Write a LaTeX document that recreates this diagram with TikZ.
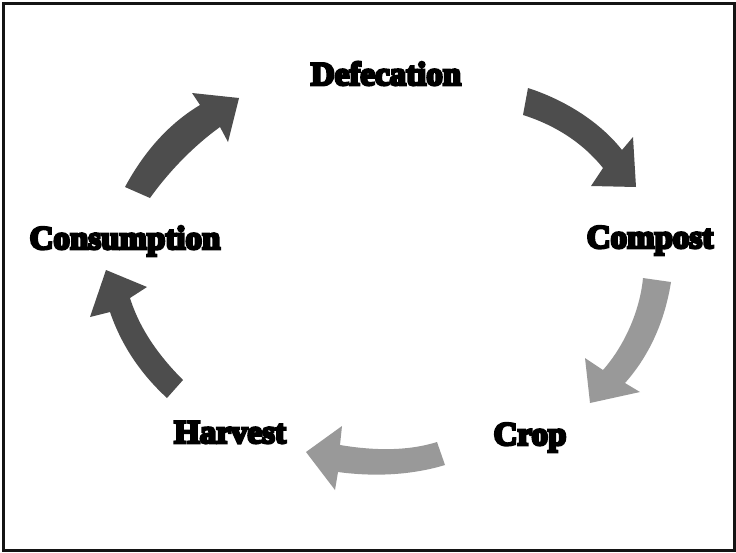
\documentclass[tikz,border=0pt]{standalone}
\usepackage{fontspec}
\newfontfamily\lblfont{Liberation Serif Bold}[FakeBold=8]
\definecolor{darkarrow}{RGB}{77,77,77}
\definecolor{lightarrow}{RGB}{153,153,153}
\definecolor{framecol}{RGB}{20,20,20}
\tikzset{
  lbl/.style={anchor=base,inner sep=0pt,font=\lblfont\fontsize{33}{40}\selectfont},
  darkblk/.style={fill=darkarrow,draw=none},
  lightblk/.style={fill=lightarrow,draw=none}
}
\begin{document}
\begin{tikzpicture}[x=1pt,y=-1pt]
\useasboundingbox (0,0) rectangle (736,552);
\draw[framecol,line width=3pt] (3.5,3.5) rectangle (734,550);
% labels
\node[lbl] (def)  at (386,85)  {Defecation};
\node[lbl] (comp) at (650,248) {Compost};
\node[lbl] (crop) at (530,445) {Crop};
\node[lbl] (harv) at (230,443) {Harvest};
\node[lbl] (cons) at (125,249) {Consumption};
% arrow 1: Defecation -> Compost
\fill[darkblk] (528,88) .. controls (565,100) and (600,122) .. (622,150)
  -- (633,137) -- (636,187) -- (591,186) -- (603,168)
  .. controls (583,143) and (555,125) .. (523,115) -- cycle;
% arrow 2: Compost -> Crop
\fill[lightblk] (671,282) .. controls (665,320) and (650,355) .. (625,383)
  -- (640,392) -- (590,403) -- (585,358) -- (603,370)
  .. controls (625,345) and (640,310) .. (643,278) -- cycle;
% arrow 3: Crop -> Harvest
\fill[lightblk] (437,442) .. controls (405,452) and (370,450) .. (340,445)
  -- (342,426) -- (306,452) -- (335,490) -- (338,472)
  .. controls (375,477) and (412,475) .. (445,465) -- cycle;
% arrow 4: Harvest -> Consumption
\fill[darkblk] (183,380) .. controls (160,357) and (140,330) .. (130,298)
  -- (147,287) -- (106,270) -- (90,317) -- (110,312)
  .. controls (122,347) and (142,375) .. (167,398) -- cycle;
% arrow 5: Consumption -> Defecation
\fill[darkblk] (125,187) .. controls (145,150) and (170,123) .. (200,105)
  -- (192,93) -- (239,98) -- (228,142) -- (220,127)
  .. controls (195,145) and (170,170) .. (150,198) -- cycle;
\end{tikzpicture}
\end{document}
